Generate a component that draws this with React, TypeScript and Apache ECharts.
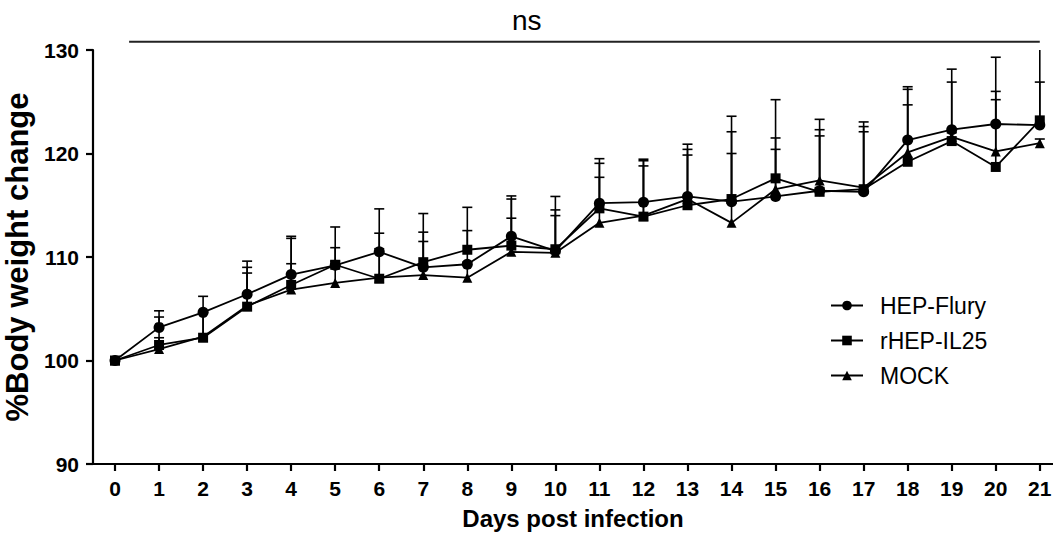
import React, { useEffect, useRef } from "react";
import * as echarts from "echarts";

const days = [0, 1, 2, 3, 4, 5, 6, 7, 8, 9, 10, 11, 12, 13, 14, 15, 16, 17, 18, 19, 20, 21];

const flury = [100, 103.2, 104.65, 106.4, 108.3, 109.2, 110.5, 109.0, 109.3, 112.0, 110.6, 115.2, 115.3, 115.85, 115.35, 115.85, 116.4, 116.3, 121.3, 122.3, 122.85, 122.75];
const fluryUpper = [100, 104.8, 106.2, 109.6, 112.0, 112.9, 114.65, 114.2, 112.55, 115.9, 115.85, 119.5, 119.45, 120.9, 123.6, 121.5, 123.3, 122.6, 126.45, 128.15, 129.3, 126.9];

const il25 = [100, 101.5, 102.2, 105.2, 107.3, 109.25, 107.9, 109.5, 110.7, 111.1, 110.75, 114.7, 113.9, 115.0, 115.6, 117.6, 116.3, 116.55, 119.2, 121.2, 118.7, 123.2];
const il25Upper = [100, 104.2, 104.6, 109.0, 111.8, 110.9, 112.3, 112.4, 114.8, 115.6, 114.55, 119.05, 119.3, 120.4, 122.1, 125.2, 122.3, 122.1, 124.7, 126.9, 125.2, 131.0];

const mock = [100, 101.1, 102.3, 105.3, 106.85, 107.5, 108.0, 108.25, 108.0, 110.5, 110.4, 113.3, 114.0, 115.6, 113.3, 116.55, 117.4, 116.7, 120.1, 121.6, 120.2, 121.0];
const mockUpper = [100, 102.2, 104.7, 108.45, 109.35, 109.6, 110.8, 111.5, 109.5, 113.75, 114.0, 117.7, 118.8, 119.85, 120.0, 120.4, 121.7, 123.05, 126.2, 122.0, 126.0, 121.4];

const seriesNames = ["HEP-Flury", "rHEP-IL25", "MOCK"];
const yTicks = [90, 100, 110, 120, 130];

const FONT = "'Liberation Sans', Arial, sans-serif";

function errorSeries(name: string, means: number[], uppers: number[]) {
  return {
    type: "custom",
    name: name + "-err",
    clip: true,
    z: 1,
    silent: true,
    encode: { x: 0, y: 1 },
    data: days.map((d, i) => [d, means[i], uppers[i]]),
    renderItem: (params: any, api: any) => {
      const x = api.value(0);
      const y = api.value(1);
      const up = api.value(2);
      if (up <= y) return null;
      const p0 = api.coord([x, y]);
      const p1 = api.coord([x, up]);
      const style = { stroke: "#000", lineWidth: 1.6 };
      return {
        type: "group",
        children: [
          { type: "line", shape: { x1: p0[0], y1: p0[1], x2: p1[0], y2: p1[1] }, style },
          { type: "line", shape: { x1: p1[0] - 5, y1: p1[1], x2: p1[0] + 5, y2: p1[1] }, style },
        ],
      };
    },
  };
}

function lineSeries(name: string, values: number[], symbol: string, size: number) {
  return {
    type: "line",
    name,
    z: 3,
    data: days.map((d, i) => [d, values[i]]),
    symbol,
    symbolSize: size,
    showAllSymbol: true,
    lineStyle: { color: "#000", width: 1.8 },
    itemStyle: { color: "#000", borderWidth: 0 },
  };
}

export default function App() {
  const ref = useRef<HTMLDivElement>(null);
  useEffect(() => {
    document.body.style.margin = "0";
    if (!ref.current) return;
    const chart = echarts.init(ref.current, undefined, { renderer: "svg" });
    const option: any = {
      animation: false,
      backgroundColor: "#fff",
      grid: { left: 93, right: 0, top: 50, bottom: 69, containLabel: false, outerBoundsMode: "none" },
      xAxis: {
        type: "value",
        min: -0.5,
        max: 21.3,
        name: "Days post infection",
        nameLocation: "middle",
        nameGap: 42,
        nameTextStyle: { fontFamily: FONT, fontWeight: "bold", fontSize: 24, color: "#000" },
        splitLine: { show: false },
        axisLine: { onZero: false, lineStyle: { color: "#000", width: 2.2 } },
        axisTick: { length: 7, lineStyle: { color: "#000", width: 2.2 }, customValues: days },
        axisLabel: {
          customValues: days,
          margin: 14,
          fontFamily: FONT,
          fontWeight: "bold",
          fontSize: 21,
          color: "#000",
        },
      },
      yAxis: {
        type: "value",
        min: 90,
        max: 130,
        interval: 10,
        name: "%Body weight change",
        nameLocation: "middle",
        nameRotate: 90,
        nameGap: 47,
        nameTextStyle: { fontFamily: FONT, fontWeight: "bold", fontSize: 31, color: "#000" },
        splitLine: { show: false },
        axisLine: { show: true, onZero: false, lineStyle: { color: "#000", width: 2.2 } },
        axisTick: { show: true, length: 7, lineStyle: { color: "#000", width: 2.2 } },
        axisLabel: {
          margin: 14,
          fontFamily: FONT,
          fontWeight: "bold",
          fontSize: 21,
          color: "#000",
          customValues: yTicks,
        },
      },
      legend: {
        data: seriesNames,
        orient: "vertical",
        left: 825,
        top: 289,
        itemWidth: 32,
        itemHeight: 12,
        itemGap: 12,
        textStyle: { fontFamily: FONT, fontSize: 23, color: "#000", padding: [0, 0, 0, 12] },
      },
      series: [
        errorSeries(seriesNames[0], flury, fluryUpper),
        errorSeries(seriesNames[1], il25, il25Upper),
        errorSeries(seriesNames[2], mock, mockUpper),
        lineSeries(seriesNames[0], flury, "circle", 11),
        lineSeries(seriesNames[1], il25, "rect", 10),
        lineSeries(seriesNames[2], mock, "triangle", 10),
      ],
    };
    chart.setOption(option);
    const a = chart.convertToPixel({ gridIndex: 0 }, [0.32, 130.8]) as number[];
    const b = chart.convertToPixel({ gridIndex: 0 }, [21, 130.8]) as number[];
    const t = chart.convertToPixel({ gridIndex: 0 }, [9.35, 130.8]) as number[];
    chart.setOption({
      graphic: [
        {
          type: "line",
          shape: { x1: a[0], y1: a[1], x2: b[0], y2: b[1] },
          style: { stroke: "#222", lineWidth: 2 },
        },
        {
          type: "text",
          x: t[0],
          y: a[1] - 21,
          style: { text: "ns", fontFamily: FONT, fontSize: 28, fill: "#000", align: "center", verticalAlign: "middle" },
        },
      ],
    });
    return () => chart.dispose();
  }, []);
  return <div ref={ref} style={{ width: 1053, height: 533 }} />;
}
